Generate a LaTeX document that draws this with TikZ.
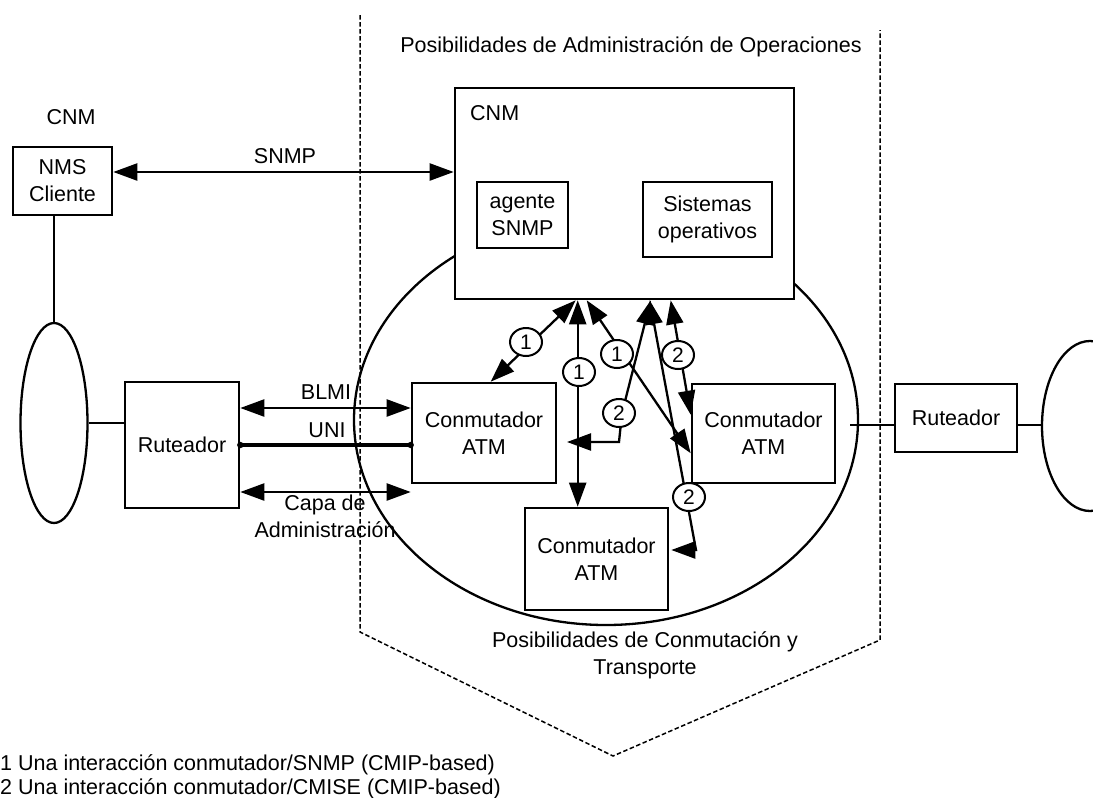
\documentclass[tikz,border=0pt]{standalone}
\usepackage{fontspec}
\setmainfont{Liberation Sans}
\usetikzlibrary{arrows.meta,shapes.geometric,calc}
\begin{document}
\begin{tikzpicture}[x=1pt,y=-1pt,
  every node/.style={font=\fontsize{21.5}{27}\selectfont},
  box/.style={draw,line width=2.6pt,inner sep=0pt,align=center,fill=white},
  link/.style={line width=2.3pt},
  both/.style={{Triangle[length=24pt,width=17pt]}-{Triangle[length=24pt,width=17pt]}},
  tag/.style={ellipse,draw,line width=2pt,fill=white,inner sep=0pt,
    minimum width=32pt,minimum height=28pt,font=\fontsize{21}{21}\selectfont},
  bound/.style={line width=1.5pt,dash pattern=on 4.5pt off 2.5pt},
  plain/.style={inner sep=0pt,align=center}
]
\useasboundingbox (0,0) rectangle (1093,798);

% boundary of the operations / switching domains
\draw[bound] (360,15) -- (360,632) -- (613,756) -- (880,640) -- (880,30);
\node[plain] (ops) at (631,47) {Posibilidades de Administración de Operaciones};
\node[plain] (swt) at (645,655) {Posibilidades de Conmutación y\\Transporte};

% switching network
\node[ellipse,draw,line width=2.3pt,inner sep=0pt,minimum width=504pt,minimum height=410pt] (sw) at (606,420) {};

% management station
\node[plain] (cnmL) at (71,117) {CNM};
\node[box,minimum width=99pt,minimum height=68pt] (nms) at (62.5,181) {NMS\\Cliente};
\node[box,minimum width=339pt,minimum height=211pt] (cnm) at (624.5,193.5) {};
\node[plain,anchor=west] (cnmT) at (470,113) {CNM};
\node[box,minimum width=91pt,minimum height=66pt] (agt) at (522.5,215) {agente\\SNMP};
\node[box,minimum width=129pt,minimum height=75pt] (sis) at (707.5,219.5) {Sistemas\\operativos};

% networks and routers
\node[ellipse,draw,line width=2.3pt,inner sep=0pt,minimum width=67pt,minimum height=200pt] (lnet) at (54,423) {};
\node[ellipse,draw,line width=2.3pt,inner sep=0pt,minimum width=96pt,minimum height=170pt] (rnet) at (1090,426) {};
\node[box,minimum width=114pt,minimum height=126pt] (rutL) at (182,445) {Ruteador};
\node[box,minimum width=122pt,minimum height=68pt] (rutR) at (956,418) {Ruteador};

% ATM switches
\node[box,minimum width=144pt,minimum height=100pt] (conmL) at (484,433) {Conmutador\\ATM};
\node[box,minimum width=143pt,minimum height=99pt] (conmR) at (763.5,433.5) {Conmutador\\ATM};
\node[box,minimum width=143pt,minimum height=102pt] (conmB) at (596.5,559) {Conmutador\\ATM};

% station links
\draw[link] (nms.south -| lnet.north) -- (lnet.north);
\draw[link] (lnet.east) -- (lnet.east -| rutL.west);
\draw[link,both] ([yshift=9pt]nms.east) -- ([yshift=9pt]nms.east -| cnm.west);
\node[plain] (snmp) at (285,156) {SNMP};

% router to switch interfaces
\draw[link,both] ([yshift=37pt]rutL.east) -- ([yshift=37pt]rutL.east -| conmL.west);
\draw[line width=4.5pt] (rutL.east) -- (rutL.east -| conmL.west);
\fill (rutL.east) circle (3.2pt);
\fill (rutL.east -| conmL.west) circle (3.2pt);
\draw[link,both] ([yshift=-47pt]rutL.east) -- ([yshift=-47pt]rutL.east -| conmL.west);
\node[plain] (blmi) at (326,392) {BLMI};
\node[plain] (uni) at (327,430) {UNI};
\node[plain] (capa) at (325,516) {Capa de\\Administración};

% right side links
\coordinate (rl) at (850,425);
\draw[link] (rl) -- (rl -| rutR.west);
\draw[link] (rl -| rutR.east) -- (rl -| rnet.west);

% switch / manager interactions
\coordinate (p1) at ($(cnm.south west)+(122,0)$);
\coordinate (q1) at ($(conmL.north west)+(80,0)$);
\draw[link,both] (q1) -- (p1);

\coordinate (p2) at ($(cnm.south west)+(124,0)$);
\draw[link,both] (p2) -- (p2 |- conmB.north);

\coordinate (p3) at ($(cnm.south west)+(133,0)$);
\coordinate (q3) at ($(conmR.south west)+(0,-31)$);
\draw[link,both] (p3) -- (q3);

\coordinate (p4) at ($(cnm.south west)+(197,0)$);
\coordinate (q4) at (567,442);
\draw[link,both] (p4) -- (622,413) -- (619,442) -- (q4);

\coordinate (p5) at ($(cnm.south west)+(217,0)$);
\coordinate (q5) at ($(conmR.north west)+(0,32)$);
\draw[link,both] (p5) -- (q5);

\coordinate (p6) at ($(cnm.south west)+(196,0)$);
\coordinate (q6) at ($(conmB.east)+(2,-9)$);
\draw[link,both] (p6) -- (696,550) -- (q6);

\node[tag] (t1a) at (526,342) {1};
\node[tag] (t1b) at (579,372) {1};
\node[tag] (t1c) at (617,354) {1};
\node[tag] (t2a) at (619,413) {2};
\node[tag] (t2b) at (678,355) {2};
\node[tag] (t2c) at (689,497) {2};

% legend
\node[plain,anchor=west] (leg1) at (0,765) {1 Una interacción conmutador/SNMP (CMIP-based)};
\node[plain,anchor=west] (leg2) at (0,789) {2 Una interacción conmutador/CMISE (CMIP-based)};
\end{tikzpicture}
\end{document}
